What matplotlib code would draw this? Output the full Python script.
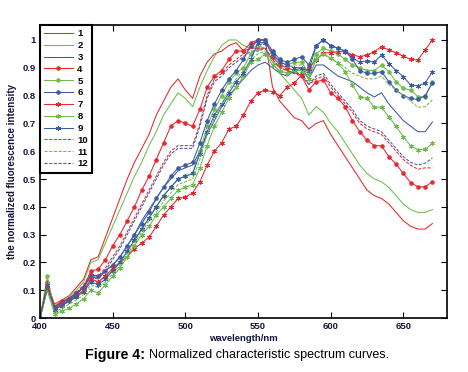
import matplotlib
matplotlib.use("Agg")
import matplotlib.pyplot as plt
import numpy as np

plt.rcParams['font.family'] = ['Liberation Sans', 'DejaVu Sans']

# wavelengths (nm), every 5 nm
wavelength = list(range(400, 675, 5))

s1 = [0, 0.12, 0.05, 0.065, 0.08, 0.11, 0.14, 0.21, 0.22, 0.29,
      0.36, 0.43, 0.50, 0.56, 0.61, 0.66, 0.73, 0.78, 0.83, 0.86,
      0.82, 0.79, 0.87, 0.92, 0.95, 0.96, 0.98, 0.99, 0.96, 0.97,
      1.0, 1.0, 0.83, 0.78, 0.75, 0.72, 0.71, 0.68, 0.70, 0.71,
      0.66, 0.62, 0.58, 0.54, 0.50, 0.46, 0.44, 0.43, 0.41, 0.38,
      0.35, 0.33, 0.32, 0.32, 0.34]
s2 = [0, 0.11, 0.045, 0.06, 0.075, 0.10, 0.13, 0.20, 0.21, 0.27,
      0.33, 0.39, 0.45, 0.51, 0.56, 0.62, 0.67, 0.73, 0.77, 0.81,
      0.79, 0.76, 0.83, 0.89, 0.94, 0.98, 1.0, 1.0, 0.98, 0.97,
      0.98, 0.97, 0.92, 0.88, 0.85, 0.82, 0.79, 0.73, 0.76, 0.74,
      0.70, 0.67, 0.63, 0.59, 0.55, 0.52, 0.50, 0.49, 0.47, 0.44,
      0.41, 0.39, 0.38, 0.38, 0.39]
s3 = [0, 0.12, 0.035, 0.05, 0.065, 0.085, 0.11, 0.15, 0.14, 0.17,
      0.19, 0.22, 0.26, 0.30, 0.35, 0.39, 0.43, 0.47, 0.50, 0.53,
      0.54, 0.55, 0.60, 0.66, 0.71, 0.76, 0.80, 0.83, 0.86, 0.89,
      0.91, 0.92, 0.90, 0.88, 0.87, 0.89, 0.90, 0.86, 0.91, 0.91,
      0.89, 0.87, 0.86, 0.85, 0.83, 0.81, 0.795, 0.81, 0.77, 0.74,
      0.71, 0.69, 0.67, 0.67, 0.705]
s4 = [0, 0.13, 0.04, 0.06, 0.07, 0.09, 0.11, 0.17, 0.175, 0.21,
      0.26, 0.30, 0.35, 0.40, 0.46, 0.51, 0.57, 0.63, 0.69, 0.71,
      0.70, 0.69, 0.75, 0.83, 0.87, 0.89, 0.93, 0.96, 0.96, 0.99,
      1.0, 1.0, 0.94, 0.91, 0.90, 0.89, 0.87, 0.82, 0.85, 0.856,
      0.81, 0.79, 0.76, 0.71, 0.67, 0.64, 0.62, 0.62, 0.58, 0.554,
      0.52, 0.487, 0.472, 0.472, 0.49]
s5 = [0, 0.15, 0.03, 0.045, 0.06, 0.08, 0.10, 0.14, 0.13, 0.15,
      0.17, 0.20, 0.24, 0.28, 0.32, 0.36, 0.40, 0.44, 0.47, 0.50,
      0.51, 0.52, 0.60, 0.69, 0.75, 0.80, 0.85, 0.88, 0.90, 0.95,
      0.97, 1.0, 0.95, 0.92, 0.91, 0.92, 0.92, 0.88, 0.95, 0.97,
      0.96, 0.95, 0.93, 0.91, 0.90, 0.89, 0.89, 0.91, 0.886, 0.85,
      0.826, 0.82, 0.796, 0.796, 0.85]
s6 = [0, 0.11, 0.04, 0.055, 0.07, 0.09, 0.11, 0.155, 0.15, 0.17,
      0.19, 0.22, 0.26, 0.30, 0.34, 0.38, 0.43, 0.47, 0.51, 0.54,
      0.55, 0.56, 0.63, 0.71, 0.77, 0.82, 0.86, 0.89, 0.93, 0.98,
      1.0, 1.0, 0.96, 0.93, 0.92, 0.93, 0.94, 0.91, 0.98, 1.0,
      0.98, 0.97, 0.96, 0.93, 0.89, 0.88, 0.88, 0.886, 0.85, 0.82,
      0.80, 0.79, 0.786, 0.80, 0.845]
s7 = [0, 0.11, 0.035, 0.05, 0.06, 0.08, 0.10, 0.14, 0.13, 0.15,
      0.18, 0.20, 0.22, 0.25, 0.27, 0.29, 0.33, 0.37, 0.40, 0.43,
      0.435, 0.45, 0.49, 0.55, 0.60, 0.63, 0.68, 0.69, 0.73, 0.78,
      0.81, 0.82, 0.813, 0.80, 0.83, 0.845, 0.874, 0.90, 0.928, 0.954,
      0.954, 0.958, 0.958, 0.946, 0.94, 0.946, 0.958, 0.976, 0.964, 0.954,
      0.942, 0.93, 0.928, 0.964, 1.0]
s8 = [0, 0.10, 0.015, 0.025, 0.035, 0.05, 0.07, 0.10, 0.09, 0.12,
      0.15, 0.18, 0.22, 0.26, 0.30, 0.33, 0.37, 0.40, 0.43, 0.46,
      0.47, 0.48, 0.54, 0.62, 0.69, 0.74, 0.79, 0.83, 0.87, 0.92,
      0.93, 0.95, 0.91, 0.89, 0.88, 0.89, 0.89, 0.86, 0.93, 0.95,
      0.935, 0.916, 0.886, 0.838, 0.796, 0.79, 0.758, 0.758, 0.724, 0.69,
      0.652, 0.62, 0.605, 0.607, 0.628]
s9 = [0, 0.12, 0.03, 0.045, 0.06, 0.075, 0.095, 0.13, 0.12, 0.14,
      0.17, 0.20, 0.24, 0.28, 0.32, 0.36, 0.40, 0.44, 0.47, 0.50,
      0.51, 0.52, 0.59, 0.67, 0.73, 0.77, 0.81, 0.85, 0.88, 0.93,
      0.99, 0.99, 0.95, 0.92, 0.91, 0.90, 0.90, 0.89, 0.98, 1.0,
      0.98, 0.97, 0.96, 0.936, 0.92, 0.925, 0.92, 0.946, 0.915, 0.89,
      0.868, 0.838, 0.835, 0.845, 0.886]
s10 = [0, 0.12, 0.04, 0.055, 0.07, 0.09, 0.12, 0.16, 0.15, 0.18,
       0.22, 0.26, 0.31, 0.36, 0.41, 0.46, 0.51, 0.56, 0.60, 0.62,
       0.62, 0.62, 0.70, 0.80, 0.86, 0.88, 0.91, 0.93, 0.95, 0.97,
       0.97, 0.97, 0.93, 0.90, 0.89, 0.88, 0.87, 0.84, 0.86, 0.87,
       0.83, 0.80, 0.77, 0.74, 0.70, 0.68, 0.67, 0.66, 0.63, 0.60,
       0.57, 0.55, 0.535, 0.54, 0.54]
s11 = [0, 0.10, 0.02, 0.035, 0.05, 0.065, 0.085, 0.12, 0.11, 0.13,
       0.16, 0.19, 0.23, 0.27, 0.31, 0.35, 0.38, 0.42, 0.45, 0.48,
       0.49, 0.50, 0.57, 0.66, 0.72, 0.77, 0.82, 0.86, 0.89, 0.93,
       0.95, 0.96, 0.92, 0.90, 0.90, 0.91, 0.91, 0.87, 0.94, 0.95,
       0.93, 0.92, 0.90, 0.88, 0.87, 0.86, 0.86, 0.87, 0.84, 0.82,
       0.80, 0.78, 0.758, 0.76, 0.784]
s12 = [0, 0.11, 0.04, 0.055, 0.07, 0.09, 0.115, 0.15, 0.145, 0.17,
       0.21, 0.25, 0.30, 0.35, 0.40, 0.45, 0.50, 0.55, 0.59, 0.61,
       0.61, 0.61, 0.69, 0.79, 0.85, 0.87, 0.90, 0.92, 0.94, 0.96,
       0.96, 0.97, 0.93, 0.90, 0.89, 0.88, 0.88, 0.84, 0.87, 0.88,
       0.84, 0.81, 0.78, 0.75, 0.71, 0.69, 0.68, 0.67, 0.64, 0.61,
       0.58, 0.56, 0.55, 0.557, 0.575]

labels = ['1', '2', '3', '4', '5', '6', '7', '8', '9', '10', '11', '12']

red = '#e8262c'
green = '#6cbd4c'
blue = '#3c5aa8'
asterisk = (6, 2, 0)

styles = [
    (red, '-', None), (green, '-', None), (blue, '-', None),
    (red, '-', 'o'), (green, '-', 'o'), (blue, '-', 'o'),
    (red, '-', asterisk), (green, '-', asterisk), (blue, '-', asterisk),
    (red, '--', None), (green, '--', None), (blue, '--', None),
]

fig = plt.figure(figsize=(4.68, 3.72), dpi=100)
ax = fig.add_axes([0.0855, 0.145, 0.8695, 0.788])

series = [s1, s2, s3, s4, s5, s6, s7, s8, s9, s10, s11, s12]
for data, lab, (c, ls, mk) in zip(series, labels, styles):
    ms = 2.6 if mk == 'o' else 3.6
    ax.plot(wavelength, data, color=c, linestyle=ls, linewidth=0.75,
            marker=mk, markersize=ms, markeredgewidth=0.6, label=lab,
            dashes=(3, 1.5) if ls == '--' else (None, None))

ax.set_xlim(400, 680)
ax.set_ylim(0, 1.054)
ax.set_xticks([400, 450, 500, 550, 600, 650])
ax.set_yticks(np.arange(0, 1.01, 0.1))
ax.set_yticklabels(['0', '0.1', '0.2', '0.3', '0.4', '0.5', '0.6', '0.7', '0.8', '0.9', '1'])

tick_color = '#14163a'
ax.tick_params(direction='in', top=True, right=True, length=4, width=0.8,
               labelsize=6.8, colors='black', labelcolor=tick_color, pad=3)
for t in ax.get_xticklabels() + ax.get_yticklabels():
    t.set_fontweight('bold')
for sp in ax.spines.values():
    sp.set_linewidth(1.2)

ax.set_xlabel('wavelength/nm', fontsize=6.8, fontweight='bold', color=tick_color, labelpad=2)
ax.set_ylabel('the normalized fluorescence intensity', fontsize=7, fontweight='bold',
              color=tick_color, labelpad=4)

leg = ax.legend(loc='upper left', borderaxespad=0, fontsize=6.8, handlelength=3.0,
                labelspacing=0.3, handletextpad=0.5, borderpad=0.45, fancybox=False,
                framealpha=1)
leg.get_frame().set_edgecolor('black')
leg.get_frame().set_linewidth(1.5)
for t in leg.get_texts():
    t.set_fontweight('bold')

# caption: bold "Figure 4:" followed by normal text
fig.text(0.31, 0.045, 'Figure 4:', ha='right', va='center', fontsize=10.2, fontweight='bold')
fig.text(0.318, 0.045, 'Normalized characteristic spectrum curves.', ha='left',
         va='center', fontsize=9.0)

fig.savefig('out.png', dpi=100)
